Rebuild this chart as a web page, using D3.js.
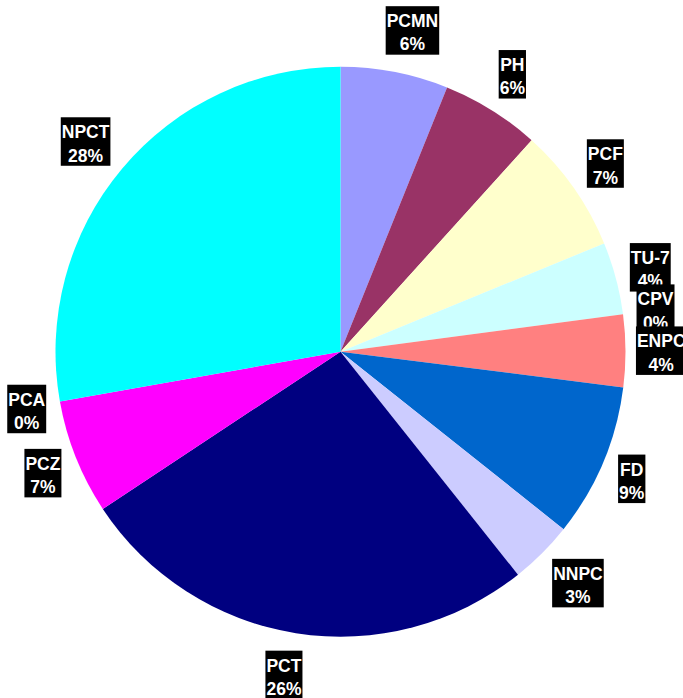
<!DOCTYPE html>
<html>
<head>
<meta charset="utf-8">
<script src="https://cdn.jsdelivr.net/npm/d3@7"></script>
<style>
  html, body { margin: 0; padding: 0; background: #fff; }
  svg { display: block; }
  .lbl text { font-family: "Liberation Sans", Arial, sans-serif; font-weight: bold; font-size: 17.5px; fill: #fff; }
</style>
</head>
<body>
<svg id="chart" width="683" height="698"></svg>
<script>
// Share of each category (percent), clockwise from 12 o'clock
const categories = ["PCMN", "PH", "PCF", "TU-7", "CPV", "ENPC", "FD", "NNPC", "PCT", "PCZ", "PCA", "NPCT"];
const values     = [6.1, 5.6, 7.1, 4.1, 0, 4.1, 8.7, 3.6, 26.4, 6.5, 0, 27.8];
const percentLabels = ["6%", "6%", "7%", "4%", "0%", "4%", "9%", "3%", "26%", "7%", "0%", "28%"];
const colors = ["#9999ff", "#993366", "#ffffcc", "#ccffff", "#660066", "#ff8080",
                "#0066cc", "#ccccff", "#000080", "#ff00ff", "#ffff00", "#00ffff"];

const svg = d3.select("#chart");
const cx = 340.5, cy = 351.7, radius = 285, anchorRadius = 303;
const boxH = 48.5, lineGap = 23.3;

const data = categories.map((c, i) => ({ name: c, value: values[i], pct: percentLabels[i], color: colors[i] }));

const pie = d3.pie().value(d => d.value).sort(null);
const arc = d3.arc().innerRadius(0).outerRadius(radius);
const anchorArc = d3.arc().innerRadius(anchorRadius).outerRadius(anchorRadius);

const arcs = pie(data);
const g = svg.append("g").attr("transform", `translate(${cx},${cy})`);

g.selectAll("path.slice")
  .data(arcs)
  .join("path")
  .attr("class", "slice")
  .attr("d", arc)
  .attr("fill", d => d.data.color);

// Two-line labels on black boxes just outside the rim, drawn in slice order
arcs.forEach(a => {
  const mid = (a.startAngle + a.endAngle) / 2;
  const [ax, ay] = anchorArc.centroid(a);
  const lg = g.append("g").attr("class", "lbl");
  const rect = lg.append("rect").attr("fill", "#000");
  const t = lg.append("text").attr("text-anchor", "middle");
  const t1 = t.append("tspan").attr("x", 0).attr("y", 21 - boxH / 2).text(a.data.name);
  const t2 = t.append("tspan").attr("x", 0).attr("y", 21 + lineGap - boxH / 2).text(a.data.pct);
  const w = Math.max(t1.node().getComputedTextLength(), t2.node().getComputedTextLength()) + 2;
  rect.attr("x", -w / 2).attr("y", -boxH / 2).attr("width", w).attr("height", boxH);
  // push the box outward so it sits beside the anchor point (corners reach out further on diagonals)
  const s = Math.sin(mid), c = Math.cos(mid);
  const diag = 1 + 0.4 * Math.abs(Math.sin(2 * mid));
  const dx = (w / 2) * 0.7 * diag * Math.sign(s) * Math.pow(Math.abs(s), 0.25);
  const dy = -(boxH / 2) * c;
  lg.attr("transform", `translate(${ax + dx},${ay + dy})`);
});
</script>
</body>
</html>
